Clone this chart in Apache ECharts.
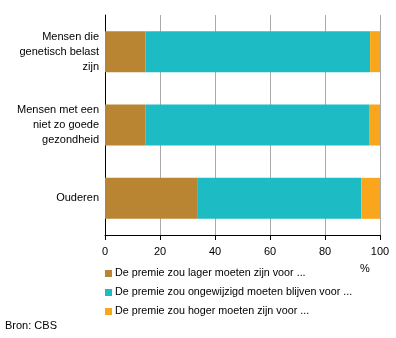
<!DOCTYPE html>
<html><head><meta charset="utf-8">
<script src="https://cdn.jsdelivr.net/npm/echarts@6/dist/echarts.min.js"></script>
<style>html,body{margin:0;padding:0;background:#fff}#c{width:396px;height:338px}</style>
</head><body><div id="c"></div>
<script>
var categories = ['Mensen die\ngenetisch belast\nzijn', 'Mensen met een\nniet zo goede\ngezondheid', 'Ouderen'];
var seriesNames = ['De premie zou lager moeten zijn voor ...', 'De premie zou ongewijzigd moeten blijven voor ...', 'De premie zou hoger moeten zijn voor ...'];
var lager = [14.7, 14.8, 33.5];
var ongewijzigd = [81.7, 81.2, 59.7];
var hoger = [3.6, 4.0, 6.8];
var xTicks = [0, 20, 40, 60, 80, 100];
var colors = ['#BA8532', '#1DBCC5', '#F9A61C'];
var font = 'Liberation Sans, Arial, sans-serif';
var chart = echarts.init(document.getElementById('c'));
var vals = [lager, ongewijzigd, hoger];
chart.setOption({
  animation: false,
  textStyle: {fontFamily: font},
  grid: {left: 105, right: 16, top: 15, bottom: 103},
  xAxis: {type: 'value', min: 0, max: 100, interval: 20,
    axisLine: {show: true, lineStyle: {color: '#000', width: 1}},
    axisTick: {show: true, length: 5, lineStyle: {color: '#000'}},
    axisLabel: {color: '#000', fontSize: 11, fontFamily: font, margin: 11,
      formatter: function(v){ return xTicks.indexOf(v) >= 0 ? String(v) : ''; }},
    splitLine: {show: true, lineStyle: {color: '#aaaaaa', width: 1}}
  },
  yAxis: {type: 'category', data: categories, inverse: true,
    axisLine: {show: true, lineStyle: {color: '#000', width: 1}},
    axisTick: {show: false},
    axisLabel: {color: '#000', fontSize: 11, fontFamily: font, lineHeight: 15, margin: 6, align: 'right'}
  },
  legend: {orient: 'vertical', left: 100, top: 263, itemWidth: 7, itemHeight: 7, itemGap: 8,
    icon: 'rect', textStyle: {color: '#000', fontSize: 10.75, fontFamily: font, padding: [0,0,0,-2]},
    data: seriesNames},
  graphic: [
    {type: 'text', left: 360, top: 263, style: {text: '%', fontSize: 11, fontFamily: font, fill: '#000'}},
    {type: 'text', left: 5, top: 320, style: {text: 'Bron: CBS', fontSize: 11, fontFamily: font, fill: '#000'}}
  ],
  series: seriesNames.map(function(n, i){
    return {name: n, type: 'bar', stack: 'a', data: vals[i], barWidth: 41,
      itemStyle: {color: colors[i]}};
  })
});
</script></body></html>
